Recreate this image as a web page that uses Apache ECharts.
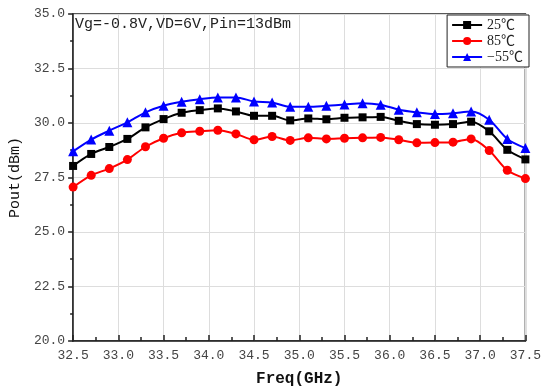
<!DOCTYPE html>
<html><head><meta charset="utf-8">
<script src="https://cdn.jsdelivr.net/npm/echarts@6/dist/echarts.min.js"></script>
<style>html,body{margin:0;padding:0;background:#fff}#c{width:544px;height:392px}</style>
</head><body><div id="c"></div>
<script>
const freq = [32.5,32.7,32.9,33.1,33.3,33.5,33.7,33.9,34.1,34.3,34.5,34.7,34.9,35.1,35.3,35.5,35.7,35.9,36.1,36.3,36.5,36.7,36.9,37.1,37.3,37.5];
const t25 = [28.03,28.58,28.9,29.27,29.8,30.18,30.47,30.59,30.67,30.53,30.33,30.33,30.12,30.21,30.17,30.24,30.26,30.28,30.1,29.95,29.92,29.95,30.06,29.62,28.77,28.33];
const t85 = [27.06,27.6,27.91,28.32,28.91,29.3,29.55,29.62,29.67,29.5,29.23,29.38,29.2,29.32,29.27,29.3,29.32,29.34,29.23,29.09,29.1,29.12,29.27,28.74,27.83,27.45];
const tm55 = [28.7,29.24,29.65,30.03,30.49,30.79,30.97,31.09,31.17,31.17,30.99,30.94,30.74,30.74,30.79,30.85,30.91,30.84,30.61,30.49,30.41,30.45,30.53,30.15,29.27,28.85];
const seriesNames = ['25℃','85℃','−55℃'];
const annotation = 'Vg=-0.8V,VD=6V,Pin=13dBm';

const font = '"Liberation Mono", "Noto Sans CJK SC", monospace';
const chart = echarts.init(document.getElementById('c'));
const pair = a => freq.map((f,i)=>[f,a[i]]);
chart.setOption({
  animation:false,
  grid:{left:70,right:16,top:14,bottom:48,show:true,borderColor:'#222',borderWidth:1.5,backgroundColor:'transparent'},
  title:{text:annotation,left:70,top:12,textStyle:{fontFamily:font,fontWeight:'normal',fontSize:15,color:'#222'}},
  legend:{data:seriesNames,right:15,top:15,orient:'vertical',itemWidth:30,itemHeight:10,itemGap:2,
    borderColor:'#222',borderWidth:1,padding:[3,6,3,4],backgroundColor:'#fff',
    textStyle:{fontFamily:'"Liberation Serif","Noto Sans CJK SC",serif',fontSize:14,color:'#222'}},
  xAxis:{type:'value',min:32.5,max:37.5,interval:0.5,
    name:'Freq(GHz)',nameLocation:'middle',nameGap:30,
    nameTextStyle:{fontFamily:font,fontSize:16,fontWeight:'bold',color:'#111'},
    axisLine:{lineStyle:{color:'#222',width:1.5}},
    axisTick:{inside:true,length:6,lineStyle:{color:'#222',width:1.5}},
    minorTick:{show:true,splitNumber:2,length:4,lineStyle:{color:'#222',width:1.5}},
    splitLine:{show:true,lineStyle:{color:'#ddd',width:1}},
    axisLabel:{fontFamily:font,fontSize:13,color:'#444',margin:8,formatter:v=>v.toFixed(1)}},
  yAxis:{type:'value',min:20,max:35,interval:2.5,
    name:'Pout(dBm)',nameLocation:'middle',nameGap:42,
    nameTextStyle:{fontFamily:font,fontSize:15,color:'#111'},
    axisLine:{show:true,lineStyle:{color:'#222',width:1.5}},
    axisTick:{show:true,inside:false,length:5,lineStyle:{color:'#222',width:1.5}},
    minorTick:{show:true,splitNumber:2,length:3,lineStyle:{color:'#222',width:1.5}},
    splitLine:{show:true,lineStyle:{color:'#ddd',width:1}},
    axisLabel:{fontFamily:font,fontSize:13,color:'#444',margin:8,formatter:v=>v.toFixed(1)}},
  series:[
    {name:seriesNames[0],type:'line',data:pair(t25),symbol:'rect',symbolSize:8,smooth:0.3,color:'#000',lineStyle:{width:2}},
    {name:seriesNames[1],type:'line',data:pair(t85),symbol:'circle',symbolSize:9,smooth:0.3,color:'#ff0000',lineStyle:{width:2}},
    {name:seriesNames[2],type:'line',data:pair(tm55),symbol:'triangle',symbolSize:10,smooth:0.3,color:'#0000ff',lineStyle:{width:2}}
  ]
});
</script></body></html>
